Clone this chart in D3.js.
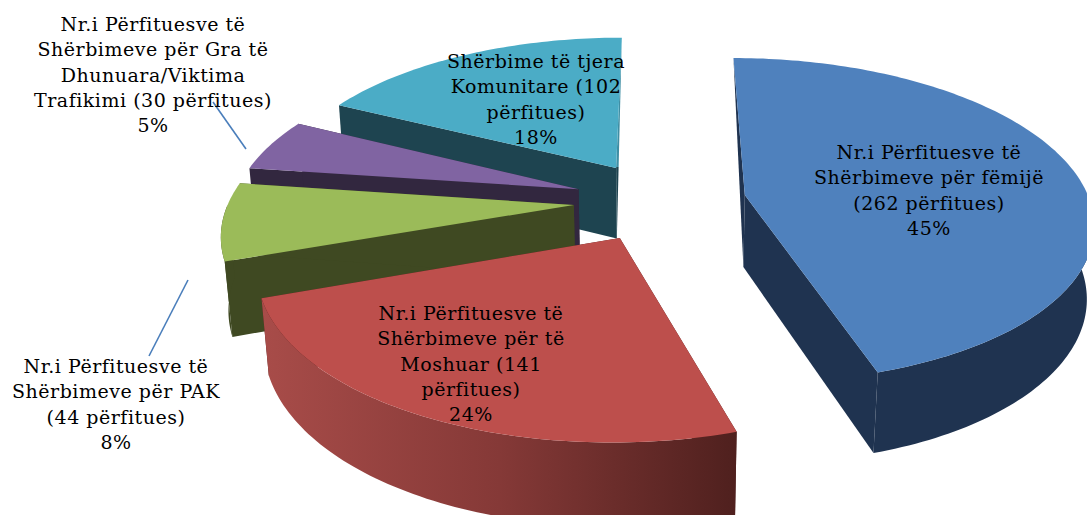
<!DOCTYPE html>
<html>
<head>
<meta charset="utf-8">
<script src="https://cdn.jsdelivr.net/npm/d3@7"></script>
<style>
  html, body { margin: 0; padding: 0; background: #fff; overflow: hidden; }
  svg { display: block; }
  text { font-family: "DejaVu Serif", serif; font-size: 19px; letter-spacing: 0.52px; fill: #000; }
</style>
</head>
<body>
<div id="chart"></div>
<script>
const categories = ["Fëmijë", "Të moshuar", "PAK", "Gra të dhunuara", "Të tjera"];
const values = [262, 141, 44, 30, 102];
const labelLines = [
  ["Nr.i Përfituesve të", "Shërbimeve për fëmijë", "(262 përfitues)"],
  ["Nr.i Përfituesve të", "Shërbimeve për të", "Moshuar (141", "përfitues)"],
  ["Nr.i Përfituesve të", "Shërbimeve për PAK", "(44 përfitues)"],
  ["Nr.i Përfituesve të", "Shërbimeve për Gra të", "Dhunuara/Viktima", "Trafikimi (30 përfitues)"],
  ["Shërbime të tjera", "Komunitare (102", "përfitues)"]
];

const topColors = ["#4f81bd", "#bd4f4c", "#9bbb59", "#8064a2", "#4bacc6"];
const sideColors = ["#1f3350", "url(#redSide)", "#3f4922", "#32273f", "#1e4450"];
const labelX = [929, 471, 116, 153, 536];
const labelY = [152, 313, 366, 24, 61];
const leaders = [null, null, [[188, 280], [149, 356]], [[213, 102], [246, 149]], null];
const drawOrder = [4, 3, 2, 1, 0];

let width = 1087,
  height = 515,
  lineStep = 25.3;

// camera: the pie lies flat, unit radius, seen in perspective
let cam = ({ cx: 660, cy: 201, sx: 345, sy: 160, k: 0.155, depth: 73.5, shrink: 0.017 }),
  explode = 0.25;

let project = (X, Y, Z) => {
  let w = 1 - cam.k * Y + cam.shrink * Z;
  return [cam.cx + cam.sx * X / w, cam.cy + (cam.sy * Y + cam.depth * Z) / w];
};

let arcs = d3.pie().sort(null).startAngle(0).endAngle(2 * Math.PI)(values);
let total = d3.sum(values);
let percent = d3.format(".0%");

let line = d3.line();

// one point of a slice: r along the angle a, on the level Z
let point = (d, a, r, Z) => {
  let mid = (d.startAngle + d.endAngle) / 2;
  return project(explode * Math.sin(mid) + r * Math.sin(a), -explode * Math.cos(mid) - r * Math.cos(a), Z);
};

let rim = (d, Z, a0, a1) => {
  let n = Math.ceil(Math.abs(a1 - a0) / 0.02);
  return d3.range(n + 1).map(i => point(d, a0 + (a1 - a0) * i / n, 1, Z));
};

const svg = d3.select("#chart")
  .append("svg")
  .attr("width", width)
  .attr("height", height)
  .attr("viewBox", [0, 0, width, height]);

const defs = svg.append("defs");

let grad = defs.append("linearGradient")
  .attr("id", "redSide")
  .attr("gradientUnits", "userSpaceOnUse")
  .attr("x1", 262).attr("x2", 737)
  .attr("y1", 0).attr("y2", 0);
grad.append("stop").attr("offset", "0").attr("stop-color", "#a84c49");
grad.append("stop").attr("offset", "0.5").attr("stop-color", "#853937");
grad.append("stop").attr("offset", "1").attr("stop-color", "#4f201e");

// the thin seam of the teal slice is lighter above its top corner
let seam = defs.append("linearGradient")
  .attr("id", "tealSeam")
  .attr("gradientUnits", "userSpaceOnUse")
  .attr("x1", 0).attr("x2", 0)
  .attr("y1", 37).attr("y2", 237);
seam.append("stop").attr("offset", "0.65").attr("stop-color", "#3f8ea4");
seam.append("stop").attr("offset", "0.65").attr("stop-color", "#1e4450");

const slice = svg.selectAll(".slice")
  .data(drawOrder.map(i => arcs[i]))
  .join("g")
  .attr("class", "slice");

// radial wall at both cut edges, the seam at angle 0 shows only as a wedge
[d => d.startAngle, d => d.endAngle].forEach(edge => {
  slice.append("path")
    .attr("fill", d => {
      if (d.index === 1) return "#4f201e";
      if (d.index === 4 && edge(d) === d.endAngle) return "url(#tealSeam)";
      return sideColors[d.index];
    })
    .attr("d", d => {
      let a = edge(d),
        atSeam = Math.abs(Math.sin(a)) < 1e-6,
        pts = [point(d, 0, 0, 0), point(d, a, 1, 0)];
      if (!atSeam) pts.push(point(d, a, 1, 1));
      pts.push(point(d, 0, 0, 1));
      return line(pts) + "Z";
    });
});

// outer curved wall, front half only
slice.filter(d => d.startAngle < 1.5 * Math.PI && d.endAngle > Math.PI / 2)
  .append("path")
  .attr("fill", d => sideColors[d.index])
  .attr("d", d => {
    let a0 = Math.max(d.startAngle, Math.PI / 2),
      a1 = Math.min(d.endAngle, 1.5 * Math.PI);
    return line(rim(d, 0, a0, a1).concat(rim(d, 1, a1, a0))) + "Z";
  });

// top face
slice.append("path")
  .attr("fill", d => topColors[d.index])
  .attr("d", d => line([point(d, 0, 0, 0)].concat(rim(d, 0, d.startAngle, d.endAngle))) + "Z");

svg.selectAll(".leader")
  .data(leaders.filter(d => d))
  .join("path")
  .attr("class", "leader")
  .attr("fill", "none")
  .attr("stroke", "#4a7ebb")
  .attr("stroke-width", 1.6)
  .attr("d", line);

const label = svg.selectAll(".label")
  .data(arcs)
  .join("text")
  .attr("class", "label")
  .attr("text-anchor", "middle")
  .attr("x", d => labelX[d.index])
  .attr("y", d => labelY[d.index]);

label.selectAll("tspan")
  .data(d => labelLines[d.index].concat(percent(d.value / total)).map(t => ({ t, i: d.index })))
  .join("tspan")
  .attr("x", d => labelX[d.i])
  .attr("dy", (d, i) => i ? lineStep : 0)
  .attr("dominant-baseline", "central")
  .text(d => d.t);
</script>
</body>
</html>
